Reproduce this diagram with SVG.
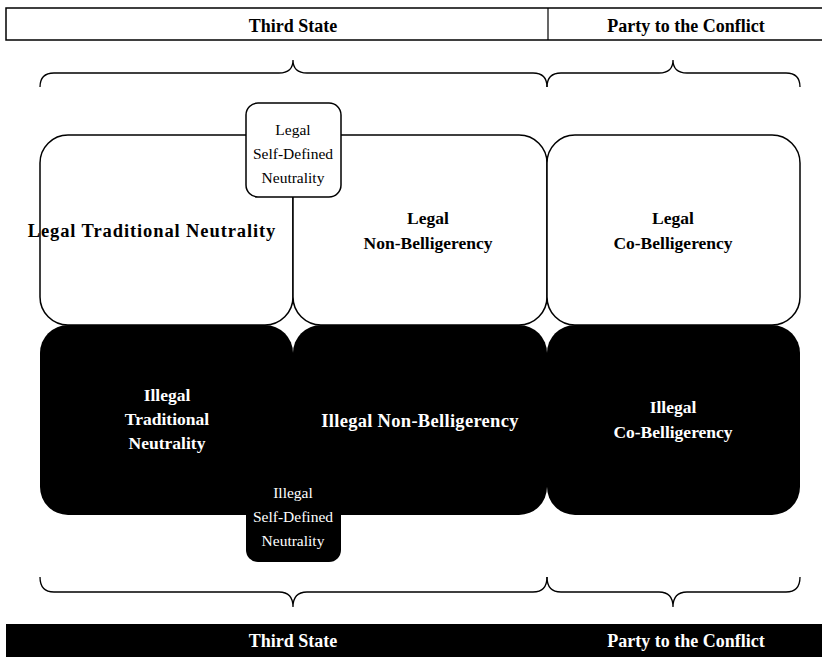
<svg xmlns="http://www.w3.org/2000/svg" width="822" height="657" viewBox="0 0 822 657">
  <style>
    .lbl { font-family: "Liberation Serif", "Times New Roman", serif; text-anchor: middle; }
    .big { font-size: 17.5px; font-weight: bold; }
    .wide { font-size: 18.5px; font-weight: bold; }
    .hdr { font-size: 18px; font-weight: bold; }
    .small { font-size: 15.5px; }
    .w { fill: #fff; }
    .k { fill: #000; }
    .legal { fill: #fff; stroke: #000; stroke-width: 1.5; }
    .illegal { fill: #000; stroke: none; }
    .brace { fill: none; stroke: #000; stroke-width: 1.3; }
  </style>
  <rect x="0" y="0" width="822" height="657" fill="#fff"/>

  <!-- header bar -->
  <g id="header-top">
    <rect x="6" y="8" width="820" height="32" fill="#fff" stroke="#000" stroke-width="1.5"/>
    <line x1="548" y1="8" x2="548" y2="40" stroke="#000" stroke-width="1.2"/>
    <text class="lbl hdr k" x="293" y="32">Third State</text>
    <text class="lbl hdr k" x="686" y="32">Party to the Conflict</text>
  </g>

  <!-- footer bar -->
  <g id="header-bottom">
    <rect x="6" y="624" width="816" height="33" fill="#000"/>
    <text class="lbl hdr w" x="293" y="647">Third State</text>
    <text class="lbl hdr w" x="686" y="647">Party to the Conflict</text>
  </g>

  <!-- braces grouping the columns -->
  <g id="connectors">
    <path class="brace" d="M40,87 Q40,73 54,73 L279,73 Q293,73 293,60 Q293,73 307,73 L533,73 Q547,73 547,87"/>
    <path class="brace" d="M547,87 Q547,73 561,73 L659,73 Q673,73 673,60 Q673,73 687,73 L786,73 Q800,73 800,87"/>
    <path class="brace" d="M40,577 Q40,592 54,592 L279,592 Q293,592 293,607 Q293,592 307,592 L533,592 Q547,592 547,577"/>
    <path class="brace" d="M547,577 Q547,592 561,592 L659,592 Q673,592 673,607 Q673,592 687,592 L786,592 Q800,592 800,577"/>
  </g>

  <!-- legal row -->
  <g id="legal-traditional-neutrality">
    <rect class="legal" x="40" y="135" width="253" height="190" rx="28"/>
    <text class="lbl wide k" x="152" y="237" letter-spacing="0.9">Legal Traditional Neutrality</text>
  </g>
  <g id="legal-non-belligerency">
    <rect class="legal" x="293" y="135" width="254" height="190" rx="28"/>
    <text class="lbl big k" x="428" y="224">Legal</text>
    <text class="lbl big k" x="428" y="249">Non-Belligerency</text>
  </g>
  <g id="legal-co-belligerency">
    <rect class="legal" x="547" y="135" width="253" height="190" rx="28"/>
    <text class="lbl big k" x="673" y="224">Legal</text>
    <text class="lbl big k" x="673" y="249">Co-Belligerency</text>
  </g>

  <!-- illegal row -->
  <g id="illegal-traditional-neutrality">
    <rect class="illegal" x="40" y="325" width="253" height="190" rx="28"/>
    <text class="lbl big w" x="167" y="401">Illegal</text>
    <text class="lbl big w" x="167" y="425">Traditional</text>
    <text class="lbl big w" x="167" y="449">Neutrality</text>
  </g>
  <g id="illegal-non-belligerency">
    <rect class="illegal" x="293" y="325" width="254" height="190" rx="28"/>
    <text class="lbl wide w" x="420" y="427" letter-spacing="0.3">Illegal Non-Belligerency</text>
  </g>
  <g id="illegal-co-belligerency">
    <rect class="illegal" x="547" y="325" width="253" height="190" rx="28"/>
    <text class="lbl big w" x="673" y="413">Illegal</text>
    <text class="lbl big w" x="673" y="438">Co-Belligerency</text>
  </g>

  <!-- self-defined neutrality overlays -->
  <g id="legal-self-defined-neutrality">
    <rect class="legal" x="246" y="103" width="95" height="94" rx="12"/>
    <text class="lbl small k" x="293" y="135">Legal</text>
    <text class="lbl small k" x="293" y="159">Self-Defined</text>
    <text class="lbl small k" x="293" y="183">Neutrality</text>
  </g>
  <g id="illegal-self-defined-neutrality">
    <rect class="illegal" x="246" y="470" width="95" height="92" rx="12"/>
    <text class="lbl small w" x="293" y="498">Illegal</text>
    <text class="lbl small w" x="293" y="522">Self-Defined</text>
    <text class="lbl small w" x="293" y="546">Neutrality</text>
  </g>
</svg>
